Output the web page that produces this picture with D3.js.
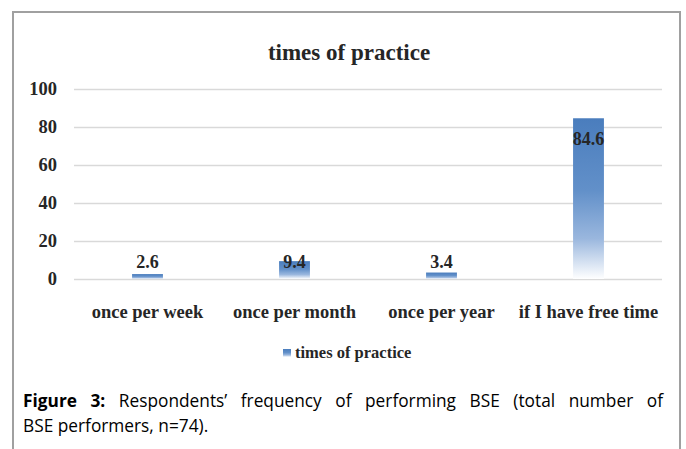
<!DOCTYPE html>
<html>
<head>
<meta charset="utf-8">
<script src="https://cdn.jsdelivr.net/npm/d3@7"></script>
<style>
  body { margin: 0; background: #fff; }
  svg text { fill: #262626; }
  .serif { font-family: "Liberation Serif", "Times New Roman", serif; font-weight: bold; }
  .caption { font-family: "Open Sans", sans-serif; fill: #000; }
</style>
</head>
<body>
<div id="chart"></div>
<script>
var categories = ["once per week", "once per month", "once per year", "if I have free time"];
var values = [2.6, 9.4, 3.4, 84.6];
var yTicks = [0, 20, 40, 60, 80, 100];
var seriesName = "times of practice";

var svgWidth = 686;
var svgHeight = 449;

var margin = { top: 89, right: 24, bottom: 170, left: 74 };
var width = svgWidth - margin.left - margin.right;
var height = 279 - margin.top;

var svg = d3.select("#chart")
  .append("svg")
  .attr("width", svgWidth)
  .attr("height", svgHeight);

// frame around chart + caption
svg.append("path")
  .attr("d", "M13,449 L13,12 L680,12 L680,449")
  .attr("fill", "none")
  .attr("stroke", "#a0a0a0")
  .attr("stroke-width", 2);

var grad = svg.append("defs").append("linearGradient")
  .attr("id", "barGrad")
  .attr("x1", 0).attr("y1", 0).attr("x2", 0).attr("y2", 1);
grad.append("stop").attr("offset", "0%").attr("stop-color", "#4a7dbd");
grad.append("stop").attr("offset", "45%").attr("stop-color", "#6290c9");
grad.append("stop").attr("offset", "75%").attr("stop-color", "#9ab7de");
grad.append("stop").attr("offset", "100%").attr("stop-color", "#ffffff");

var chartGroup = svg.append("g")
  .attr("transform", `translate(${margin.left}, ${margin.top})`);

var xScale = d3.scaleBand()
  .domain(categories)
  .range([0, width])
  .paddingInner(0.79)
  .paddingOuter(0.395);

var yScale = d3.scaleLinear()
  .domain([0, 100])
  .range([height, 0]);

var leftAxis = d3.axisLeft(yScale)
  .tickValues(yTicks)
  .tickSize(-width)
  .tickPadding(17);

var yAxisG = chartGroup.append("g").call(leftAxis);
yAxisG.select(".domain").remove();
yAxisG.selectAll(".tick line").attr("stroke", "#d9d9d9").attr("stroke-width", 1.3);
yAxisG.selectAll(".tick text")
  .attr("class", "serif")
  .style("font-size", "18.5px")
  .attr("fill", "#262626");

var bottomAxis = d3.axisBottom(xScale).tickSize(0).tickPadding(26);
var xAxisG = chartGroup.append("g")
  .attr("transform", `translate(0, ${height})`)
  .call(bottomAxis);
xAxisG.select(".domain").remove();
xAxisG.selectAll(".tick text")
  .attr("class", "serif")
  .style("font-size", "18.5px")
  .attr("fill", "#262626");

chartGroup.selectAll("rect.bar")
  .data(values)
  .enter()
  .append("rect")
  .attr("class", "bar")
  .attr("x", (d, i) => xScale(categories[i]))
  .attr("y", d => yScale(d))
  .attr("width", xScale.bandwidth())
  .attr("height", d => yScale(0) - yScale(d))
  .attr("fill", "url(#barGrad)");

chartGroup.selectAll("text.val")
  .data(values)
  .enter()
  .append("text")
  .attr("class", "serif val")
  .attr("text-anchor", "middle")
  .style("font-size", "18px")
  .attr("x", (d, i) => xScale(categories[i]) + xScale.bandwidth() / 2)
  .attr("y", d => d > 50 ? yScale(d) + 27 : yScale(0) - 11)
  .text(d => d);

// title
svg.append("text")
  .attr("class", "serif")
  .attr("x", 349)
  .attr("y", 60)
  .attr("text-anchor", "middle")
  .style("font-size", "23px")
  .text(seriesName);

// legend
svg.append("rect")
  .attr("x", 283).attr("y", 349)
  .attr("width", 8).attr("height", 8)
  .attr("fill", "url(#barGrad)");
svg.append("text")
  .attr("class", "serif")
  .attr("x", 295)
  .attr("y", 358)
  .style("font-size", "16.5px")
  .text(seriesName);

// caption, first line justified with word spacing
var cap1 = svg.append("text")
  .attr("class", "caption")
  .attr("x", 23)
  .attr("y", 407)
  .style("font-size", "17.3px");
cap1.append("tspan").attr("font-weight", "bold").text("Figure 3:");
cap1.append("tspan").text(" Respondents\u2019 frequency of performing BSE (total number of");
var natural = cap1.node().getComputedTextLength();
var spaces = 10;
var extra = (649 - natural) / spaces;
if (extra > 0) cap1.style("word-spacing", extra + "px");

svg.append("text")
  .attr("class", "caption")
  .attr("x", 23)
  .attr("y", 432)
  .style("font-size", "17.3px")
  .text("BSE performers, n=74).");
</script>
</body>
</html>
